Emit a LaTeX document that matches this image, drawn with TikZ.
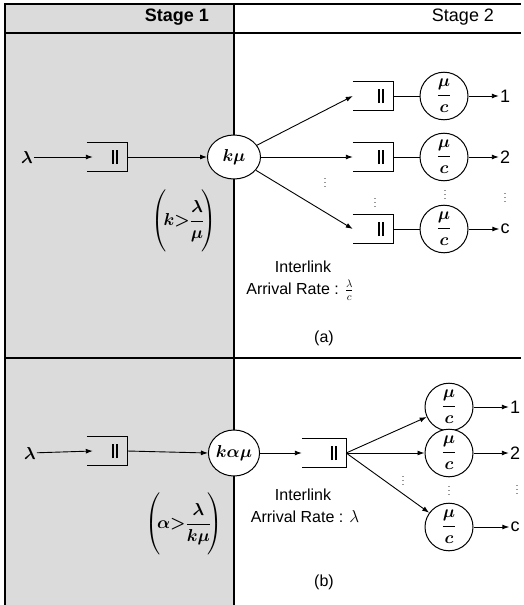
\documentclass[tikz,border=0pt]{standalone}
\usepackage{fontspec}
\setmainfont{Liberation Sans}
\usepackage{amsmath}
\usetikzlibrary{shapes.geometric,arrows.meta}
\newcommand\drawqueue[1]{%
  \draw[conn] (#1.north west) -- (#1.north east) -- (#1.south east) -- (#1.south west);
  \draw[line width=1.6pt] ([xshift=-14pt,yshift=-7pt]#1.east) -- ([xshift=-14pt,yshift=7pt]#1.east);
  \draw[line width=1.6pt] ([xshift=-10pt,yshift=-7pt]#1.east) -- ([xshift=-10pt,yshift=7pt]#1.east);}
\begin{document}
\begin{tikzpicture}[x=1pt,y=-1pt,
  frameline/.style={line width=1.5pt},
  conn/.style={line width=0.9pt},
  arr/.style={conn,-{Latex[length=7pt,width=5pt]}},
  server/.style={ellipse,draw,fill=white,line width=1pt,minimum width=48pt,minimum height=42pt,inner sep=0pt,font=\fontsize{18}{20}\selectfont\boldmath},
  qnode/.style={rectangle,minimum width=40pt,minimum height=28pt,inner sep=0pt},
  txt/.style={font=\fontsize{16}{18}\selectfont,inner sep=1pt},
  headtxt/.style={font=\fontsize{18}{20}\selectfont,inner sep=1pt},
  outlbl/.style={font=\fontsize{18}{20}\selectfont,inner sep=1pt},
  dotsn/.style={font=\fontsize{9}{10}\selectfont,inner sep=0pt},
  lam/.style={font=\fontsize{17}{18}\selectfont\boldmath,inner sep=1pt},
  cond/.style={font=\fontsize{17}{19}\selectfont\boldmath,inner sep=0pt}
]
\useasboundingbox (0,0) rectangle (523,605);
% background and frame
\fill[black!14] (5,4) rectangle (234,605);
\draw[frameline] (5,605) -- (5,4) -- (521,4);
\draw[frameline] (5,33) -- (521,33);
\draw[frameline] (234,4) -- (234,605);
\draw[frameline] (5,358) -- (521,358);
\node[headtxt,font=\fontsize{18}{20}\selectfont\bfseries] (s1) at (177,17) {Stage 1};
\node[headtxt] (s2) at (463,17) {Stage 2};

% ---------- (a) ----------
\node[lam] (lamA) at (27,157) {$\lambda$};
\node[qnode] (qA) at (107,157) {};
\drawqueue{qA}
\draw[arr] (lamA) -- ([xshift=6pt]qA.west);
\node[server,minimum width=53pt,minimum height=44pt] (kmu) at (234,157) {$k\mu$};
\draw[arr] (qA.east) -- (kmu.west);
\node[cond] (condA) at (184,221) {$\left(\vrule height 31pt depth 27pt width 0pt\!k{>}\dfrac{\lambda}{\mu}\!\right)$};

\node[qnode] (qA1) at (373,96) {};
\node[qnode] (qA2) at (373,157) {};
\node[qnode] (qA3) at (373,229) {};
\drawqueue{qA1}\drawqueue{qA2}\drawqueue{qA3}
\node[server] (sA1) at (444,96) {$\dfrac{\mu}{c}$};
\node[server] (sA2) at (444,157) {$\dfrac{\mu}{c}$};
\node[server] (sA3) at (444,229) {$\dfrac{\mu}{c}$};
\node[outlbl] (oA1) at (505,96) {1};
\node[outlbl] (oA2) at (505,157) {2};
\node[outlbl] (oA3) at (505,229) {c};
\foreach \i in {1,2,3}{
  \draw[arr] (kmu) -- (qA\i.west);
  \draw[conn] (qA\i.east) -- (sA\i.west);
  \draw[arr] (sA\i.east) -- (oA\i.west);
}
\node[dotsn] (dA1) at (325,180) {$\vdots$};
\node[dotsn] (dA2) at (375,200) {$\vdots$};
\node[dotsn] (dA3) at (445,192) {$\vdots$};
\node[dotsn] (dA4) at (505,195) {$\vdots$};
\node[txt] (ilA) at (303,267) {Interlink};
\node[txt] (arA) at (300,290) {Arrival Rate : $\frac{\lambda}{c}$};
\node[txt] (labA) at (324,338) {(a)};

% ---------- (b) ----------
\node[lam] (lamB) at (30,453) {$\lambda$};
\node[qnode] (qB) at (107,451) {};
\drawqueue{qB}
\draw[arr] (lamB) -- ([xshift=6pt]qB.west);
\node[server,minimum width=50pt,minimum height=46pt] (kam) at (234,453) {$k\alpha\mu$};
\draw[arr] (qB.east) -- (kam.west);
\node[cond] (condB) at (184,524) {$\left(\vrule height 31pt depth 27pt width 0pt\!\alpha{>}\dfrac{\lambda}{k\mu}\!\right)$};

\node[qnode,minimum width=44pt,minimum height=29pt] (qB2) at (324,453) {};
\drawqueue{qB2}
\draw[arr] (kam.east) -- (qB2.west);
\node[server] (sB1) at (449,407) {$\dfrac{\mu}{c}$};
\node[server] (sB2) at (449,453) {$\dfrac{\mu}{c}$};
\node[server] (sB3) at (449,527) {$\dfrac{\mu}{c}$};
\node[outlbl] (oB1) at (515,407) {1};
\node[outlbl] (oB2) at (515,453) {2};
\node[outlbl] (oB3) at (515,527) {c};
\foreach \i in {1,2,3}{
  \draw[arr] (qB2.east) -- (sB\i);
  \draw[arr] (sB\i.east) -- (oB\i.west);
}
\node[dotsn] (dB1) at (403,478) {$\vdots$};
\node[dotsn] (dB2) at (449,488) {$\vdots$};
\node[dotsn] (dB3) at (517,487) {$\vdots$};
\node[txt] (ilB) at (303,495) {Interlink};
\node[txt] (arB) at (305,517) {Arrival Rate : $\lambda$};
\node[txt] (labB) at (324,582) {(b)};
\end{tikzpicture}
\end{document}
